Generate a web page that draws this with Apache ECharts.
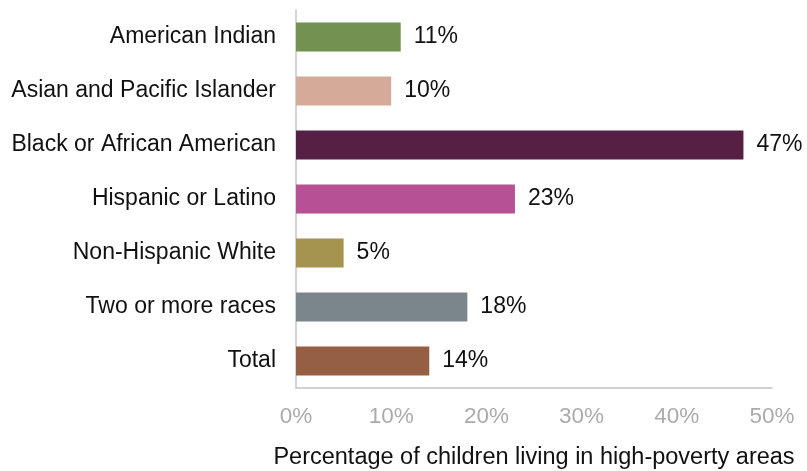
<!DOCTYPE html>
<html>
<head>
<meta charset="utf-8">
<script src="https://cdn.jsdelivr.net/npm/echarts@6/dist/echarts.min.js"></script>
<style>html,body{margin:0;padding:0;background:#fff;}#chart{width:807px;height:471px;}</style>
</head>
<body>
<div id="chart"></div>
<script>
// Share of children living in high-poverty areas, by race/ethnicity
const categories = [
  'American Indian',
  'Asian and Pacific Islander',
  'Black or African American',
  'Hispanic or Latino',
  'Non-Hispanic White',
  'Two or more races',
  'Total'
];
const values = [11, 10, 47, 23, 5, 18, 14];
const barColors = ['#739151', '#d4ab98', '#561f44', '#b55194', '#a4944f', '#7a868c', '#955f43'];
const tickValues = [0, 10, 20, 30, 40, 50];

const chart = echarts.init(document.getElementById('chart'));
const FONT = '"Liberation Sans", Arial, sans-serif';

chart.setOption({
  animation: false,
  grid: { left: 296, right: 35, top: 10, bottom: 83, containLabel: false, outerBoundsMode: 'none' },
  xAxis: {
    type: 'value',
    min: tickValues[0],
    max: tickValues[tickValues.length - 1],
    interval: 10,
    name: 'Percentage of children living in high-poverty areas',
    nameLocation: 'middle',
    nameGap: 58,
    nameTextStyle: { color: '#111', fontSize: 23.5, fontFamily: FONT, verticalAlign: 'top' },
    axisLine: { show: true, lineStyle: { color: '#c4c4c4', width: 1.5 } },
    axisTick: { show: false },
    splitLine: { show: false },
    axisLabel: { color: '#ababab', fontSize: 22.5, fontFamily: FONT, margin: 17, formatter: v => v + '%' }
  },
  yAxis: {
    type: 'category',
    data: categories,
    inverse: true,
    axisLine: { show: true, lineStyle: { color: '#c4c4c4', width: 1.5 } },
    axisTick: { show: false },
    axisLabel: { color: '#111', fontSize: 23, fontFamily: FONT, margin: 20 }
  },
  series: [{
    type: 'bar',
    data: values.map((v, i) => ({ value: v, itemStyle: { color: barColors[i] } })),
    barWidth: '54%',
    label: {
      show: true,
      position: 'right',
      distance: 13,
      color: '#111',
      fontSize: 23,
      fontFamily: FONT,
      formatter: p => p.value + '%'
    }
  }]
});
</script>
</body>
</html>
